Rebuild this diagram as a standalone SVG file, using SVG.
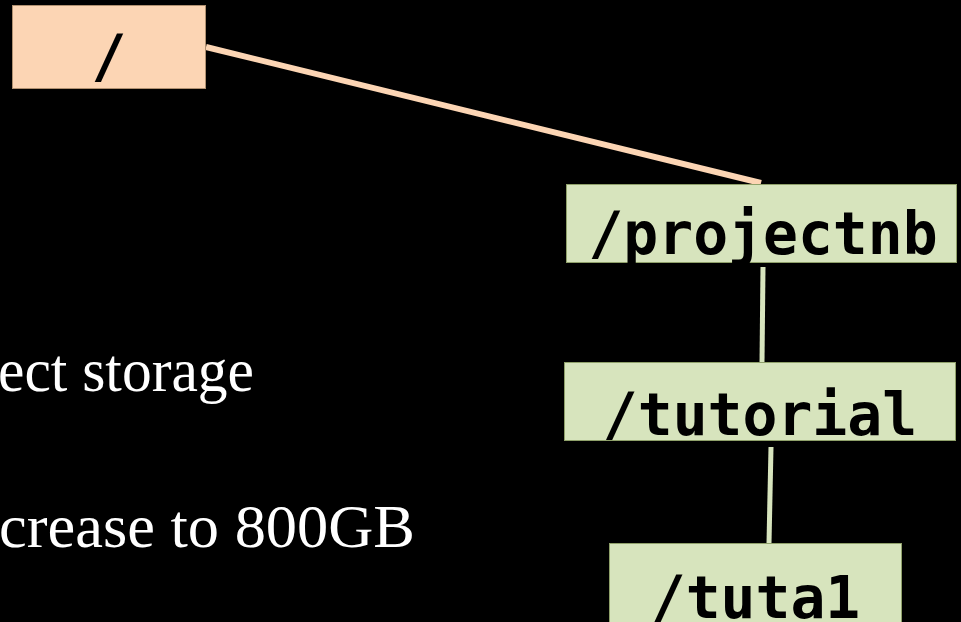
<svg xmlns="http://www.w3.org/2000/svg" width="961" height="622" viewBox="0 0 961 622">
  <style>
    .dir { font-family: "DejaVu Sans Mono", "Liberation Mono", monospace; font-weight: bold; font-size: 58px; fill: #000; text-anchor: middle; }
    .note { font-family: "Liberation Serif", "Times New Roman", serif; font-size: 61px; fill: #fff; }
    .root { fill: #FCD5B4; stroke: #B09070; stroke-width: 1; }
    .sub { fill: #D7E4BD; stroke: #8FA06A; stroke-width: 1; }
  </style>
  <rect x="0" y="0" width="961" height="622" fill="#000"/>

  <g id="connectors">
    <line x1="206" y1="47" x2="761" y2="183" stroke="#FCD5B4" stroke-width="6"/>
    <line x1="763" y1="267" x2="762" y2="362" stroke="#D7E4BD" stroke-width="5"/>
    <line x1="771" y1="447" x2="769" y2="543" stroke="#D7E4BD" stroke-width="5"/>
  </g>

  <g id="node-root">
    <rect class="root" x="12.5" y="5.5" width="193" height="83"/>
    <text class="dir" x="109" y="77">/</text>
  </g>

  <g id="node-projectnb">
    <rect class="sub" x="566.5" y="184.5" width="390" height="78"/>
    <text class="dir" x="763" y="254">/projectnb</text>
  </g>

  <g id="node-tutorial">
    <rect class="sub" x="564.5" y="362.5" width="391" height="78"/>
    <text class="dir" x="760" y="435">/tutorial</text>
  </g>

  <g id="node-tuta1">
    <rect class="sub" x="609.5" y="543.5" width="292" height="90"/>
    <text class="dir" x="755.5" y="618">/tuta1</text>
  </g>

  <g id="notes">
    <text class="note" x="-2" y="391" textLength="256" lengthAdjust="spacingAndGlyphs">ect storage</text>
    <text class="note" x="-1" y="547" textLength="416" lengthAdjust="spacingAndGlyphs">crease to 800GB</text>
  </g>
</svg>
